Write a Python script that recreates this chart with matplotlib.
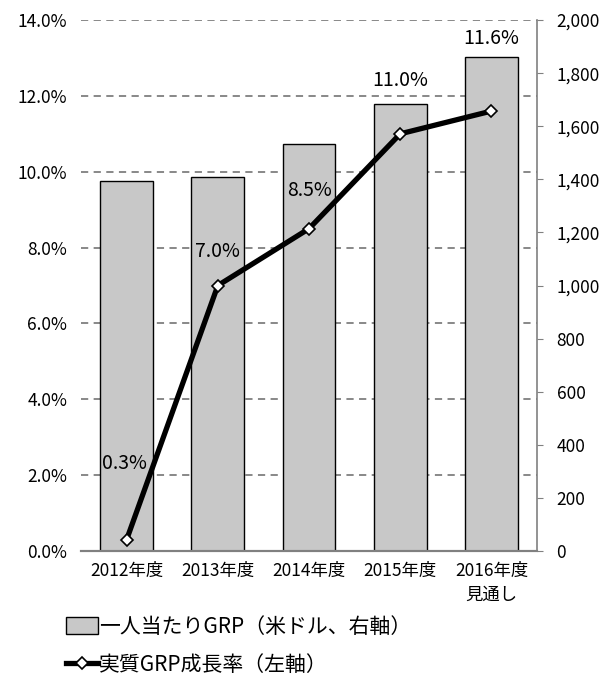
import matplotlib.pyplot as plt
from matplotlib.ticker import FuncFormatter

plt.rcParams['font.family'] = ['Noto Sans CJK JP', 'DejaVu Sans']

# data
years = ['2012年度', '2013年度', '2014年度', '2015年度', '2016年度\n見通し']
grp_per_capita = [1393, 1410, 1533, 1684, 1862]   # US$, right axis
growth = [0.3, 7.0, 8.5, 11.0, 11.6]             # %, left axis
growth_labels = ['0.3%', '7.0%', '8.5%', '11.0%', '11.6%']

fig = plt.figure(figsize=(6.11, 6.79), dpi=100)
ax = fig.add_axes([0.1326, 0.1885, 0.7464, 0.782])
ax2 = ax.twinx()

x = list(range(len(years)))

# left axis (growth rate)
ax.set_ylim(0, 14)
ax.set_yticks([i * 2 for i in range(8)])
ax.yaxis.set_major_formatter(FuncFormatter(lambda v, p: f'{v:.1f}%'))
ax.set_xlim(-0.5, len(years) - 0.5)
ax.set_xticks(x)
ax.set_xticklabels(years)

# right axis (GRP per capita)
ax2.set_ylim(0, 2000)
ax2.set_yticks(range(0, 2001, 200))
ax2.yaxis.set_major_formatter(FuncFormatter(lambda v, p: f'{int(v):,}'))

# gridlines follow the left-axis ticks, drawn behind the bars
lo, hi = ax.get_ylim()
r_lo, r_hi = ax2.get_ylim()
for t in ax.get_yticks()[1:]:
    ax2.axhline(r_lo + (t - lo) / (hi - lo) * (r_hi - r_lo), linestyle=(0, (4, 3)),
                color='#7f7f7f', linewidth=1.3, zorder=0)

bars = ax2.bar(x, grp_per_capita, width=0.58, color='#c8c8c8', edgecolor='black',
               linewidth=1.0, zorder=2)

# put the line axis on top of the bar axis
ax.set_zorder(ax2.get_zorder() + 1)
ax.patch.set_visible(False)

line, = ax.plot(x, growth, color='black', linewidth=3.8, marker='D',
                markersize=6.5, markerfacecolor='white', markeredgecolor='black',
                markeredgewidth=1.2, zorder=5)

# data labels
offsets = [(-0.02, 2.0), (0.0, 0.9), (0.0, 1.0), (0.0, 1.4), (0.0, 1.9)]
for i, lab in enumerate(growth_labels):
    dx, dy = offsets[i]
    ax.text(x[i] + dx, growth[i] + dy, lab, ha='center', va='center',
            fontsize=14, color='black', zorder=6)

# spines
for a in (ax, ax2):
    a.spines['top'].set_visible(False)
    a.spines['left'].set_visible(False)
    a.spines['right'].set_visible(False)
    a.spines['bottom'].set_color('#808080')
    a.spines['bottom'].set_linewidth(1.5)
ax2.spines['right'].set_visible(True)
ax2.spines['right'].set_color('#808080')
ax2.spines['right'].set_linewidth(1.2)

ax.tick_params(axis='y', length=0, labelsize=12.5, pad=10)
ax.tick_params(axis='x', length=0, labelsize=12.5, pad=8)
ax2.tick_params(axis='y', length=4, color='#808080', labelsize=12.5, pad=10)
for lab in ax.get_xticklabels():
    lab.set_linespacing(1.4)

# legend below the chart
fig.legend([bars.patches[0], line], ['一人当たりGRP（米ドル、右軸）', '実質GRP成長率（左軸）'],
           loc='upper left', bbox_to_anchor=(0.095, 0.105), frameon=False,
           fontsize=15, handlelength=1.5, handleheight=0.9, handletextpad=0.05,
           labelspacing=0.75, borderaxespad=0)

fig.savefig('out.png', dpi=100)
